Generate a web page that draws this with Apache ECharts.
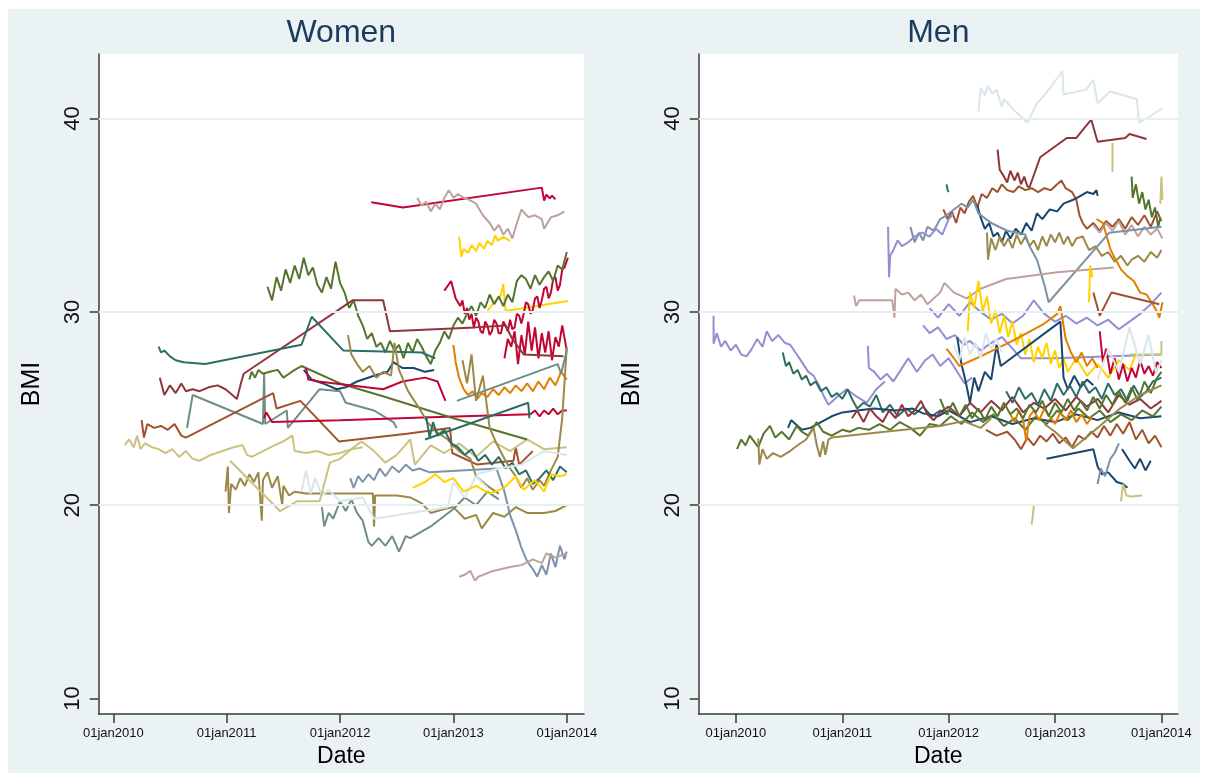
<!DOCTYPE html>
<html>
<head>
<meta charset="utf-8">
<title>BMI over time</title>
<script src="https://cdn.jsdelivr.net/npm/echarts@6/dist/echarts.min.js"></script>
<style>
    html, body { margin: 0; padding: 0; background: #fff; }
    #main { width: 1207px; height: 773px; }
</style>
</head>
<body>
<div id="main"></div>
<script>
// tick labels
var yearTicks = [2010, 2011, 2012, 2013, 2014];
var bmiTicks = [10, 20, 30, 40];
var bmiGrid = [20, 30, 40];

// ---- Women: [date as decimal year, BMI] ----
var w01 = [[2012.275,35.67],[2012.555,35.40],[2013.78,36.43],[2013.80,35.76],[2013.82,36.07],[2013.85,35.87],[2013.87,36.02],[2013.90,35.82]];
var w02 = [[2012.68,35.9],[2012.72,35.5],[2012.76,35.7],[2012.80,35.2],[2012.84,35.6],[2012.88,35.3],[2012.92,35.9],[2012.96,36.3],[2013.00,35.9],[2013.04,36.1],[2013.09,35.9],[2013.14,35.8],[2013.20,35.6],[2013.26,35.0],[2013.32,34.6],[2013.36,34.2],[2013.40,34.5],[2013.44,34.0],[2013.48,34.3],[2013.52,33.8],[2013.56,34.6],[2013.60,35.3],[2013.66,34.9],[2013.72,35.0],[2013.78,34.8],[2013.80,34.3],[2013.86,34.9],[2013.92,35.0],[2013.98,35.2]];
var w03 = [[2013.05,33.9],[2013.07,32.85],[2013.09,33.26],[2013.13,33.05],[2013.16,33.46],[2013.20,33.15],[2013.23,33.57],[2013.27,33.26],[2013.30,33.67],[2013.34,33.46],[2013.37,33.98],[2013.39,33.67],[2013.44,33.88],[2013.50,33.67]];
var w04 = [[2013.30,30.05],[2013.36,30.5],[2013.42,30.9],[2013.44,31.44],[2013.46,30.05],[2014.01,30.56]];
var w05 = [[2012.92,31.1],[2012.98,31.6],[2013.02,30.7],[2013.06,30.3],[2013.08,30.6],[2013.10,29.9],[2013.12,30.2],[2013.14,29.6],[2013.16,29.9],[2013.18,29.2],[2013.20,29.7],[2013.22,29.5],[2013.24,29.0],[2013.26,28.9],[2013.28,29.5],[2013.30,29.3],[2013.32,28.8],[2013.34,29.0],[2013.36,29.6],[2013.38,29.4],[2013.40,28.9],[2013.42,28.9],[2013.44,29.5],[2013.46,29.3],[2013.48,29.0],[2013.50,29.6],[2013.52,29.1],[2013.54,29.2],[2013.56,29.9],[2013.58,29.8],[2013.60,29.4],[2013.62,29.9],[2013.64,30.5],[2013.66,30.4],[2013.68,29.9],[2013.70,30.1],[2013.72,30.7],[2013.74,30.8],[2013.76,30.2],[2013.78,30.6],[2013.80,31.2],[2013.82,31.3],[2013.84,30.7],[2013.86,31.0],[2013.88,31.7],[2013.90,31.8],[2013.92,31.1],[2013.94,31.4],[2013.96,32.2],[2013.98,32.3],[2014.01,32.8]];
var w06 = [[2013.45,27.6],[2013.48,28.6],[2013.51,28.2],[2013.54,29.0],[2013.57,27.3],[2013.60,28.8],[2013.63,27.8],[2013.66,29.5],[2013.69,28.0],[2013.72,29.2],[2013.75,27.6],[2013.78,28.9],[2013.81,27.9],[2013.84,29.0],[2013.87,27.5],[2013.90,28.7],[2013.93,28.2],[2013.96,29.3],[2014.00,28.0]];
var w07 = [[2011.36,31.3],[2011.40,30.6],[2011.44,31.8],[2011.48,31.1],[2011.52,32.2],[2011.56,31.5],[2011.60,32.4],[2011.64,31.7],[2011.68,32.8],[2011.72,31.9],[2011.76,32.3],[2011.80,31.4],[2011.84,31.0],[2011.88,31.8],[2011.92,31.2],[2011.96,32.6],[2012.00,31.5],[2012.04,31.0],[2012.08,30.2],[2012.12,30.6],[2012.16,29.8],[2012.20,29.3],[2012.24,28.6],[2012.28,28.9],[2012.32,28.2],[2012.36,28.4],[2012.40,27.9],[2012.44,28.5],[2012.48,28.0],[2012.52,28.3],[2012.56,27.6],[2012.60,28.4],[2012.64,27.9],[2012.68,28.6],[2012.72,28.2],[2012.76,27.7],[2012.80,27.3],[2012.84,28.0],[2012.88,28.4],[2012.92,29.0],[2012.96,28.6],[2013.00,29.3],[2013.04,29.7],[2013.08,29.4],[2013.12,29.9],[2013.16,30.3],[2013.20,29.8],[2013.24,30.5],[2013.28,30.2],[2013.32,30.9],[2013.36,30.4],[2013.40,30.8],[2013.44,30.3],[2013.48,30.9],[2013.52,30.5],[2013.56,31.6],[2013.60,31.9],[2013.64,31.7],[2013.68,31.2],[2013.72,31.9],[2013.76,31.4],[2013.80,31.8],[2013.84,32.1],[2013.88,31.6],[2013.92,32.4],[2013.96,32.2],[2014.00,33.1]];
var w08 = [[2010.41,26.6],[2010.45,25.7],[2010.50,26.2],[2010.55,25.8],[2010.60,26.3],[2010.64,25.9],[2010.70,26.0],[2010.76,25.9],[2010.84,26.1],[2010.92,26.2],[2010.99,26.0],[2011.05,25.7],[2011.09,25.5],[2011.13,26.4],[2011.15,26.8],[2012.11,30.6],[2012.38,30.6],[2012.44,29.0],[2013.19,29.2],[2013.46,29.3],[2013.52,28.6],[2013.62,27.8],[2013.97,27.7]];
var w09 = [[2010.40,28.2],[2010.42,27.9],[2010.45,28.0],[2010.50,27.7],[2010.55,27.5],[2010.62,27.4],[2010.81,27.3],[2011.66,28.3],[2011.75,29.75],[2012.03,28.0],[2012.72,27.9],[2012.84,27.6]];
var w10 = [[2010.65,24.0],[2010.70,25.7],[2011.32,24.2],[2011.33,26.8],[2011.34,24.2],[2011.53,24.9],[2011.54,24.0],[2011.82,26.0],[2012.00,25.9],[2012.05,25.3],[2012.30,24.9],[2012.47,24.3],[2012.50,24.0]];
var w11 = [[2010.25,24.4],[2010.27,23.5],[2010.30,24.2],[2010.36,24.0],[2010.42,24.1],[2010.48,23.9],[2010.54,24.2],[2010.60,23.6],[2010.64,23.5],[2011.41,25.8],[2011.44,25.0],[2011.65,25.4],[2011.99,23.3],[2012.59,23.7],[2012.97,24.0],[2012.99,22.7],[2013.21,22.1],[2013.53,22.3],[2013.55,23.0],[2013.58,22.1],[2013.70,22.8]];
var w12 = [[2010.10,23.1],[2010.14,23.4],[2010.18,23.0],[2010.21,23.6],[2010.24,22.9],[2010.28,23.2],[2010.34,23.0],[2010.40,22.9],[2010.46,22.7],[2010.52,22.9],[2010.58,22.5],[2010.64,22.8],[2010.70,22.4],[2010.76,22.3],[2010.86,22.6],[2010.96,22.8],[2011.06,23.0],[2011.14,23.1],[2011.18,22.6],[2011.22,22.5],[2011.32,22.8],[2011.42,23.1],[2011.50,23.3],[2011.58,23.6],[2011.60,22.8],[2011.70,22.7],[2011.80,22.8],[2011.90,22.6],[2012.00,22.7],[2012.10,22.9],[2012.19,23.3],[2012.30,22.8],[2012.40,22.2],[2012.50,22.6],[2012.62,23.4],[2012.66,22.1],[2012.80,23.1],[2012.92,22.7],[2013.05,23.2],[2013.20,22.5],[2013.35,23.3],[2013.50,22.8],[2013.65,23.4],[2013.80,22.9],[2014.00,23.0]];
var w13 = [[2010.99,20.7],[2011.01,22.0],[2011.02,19.6],[2011.04,21.1],[2011.08,20.8],[2011.12,21.4],[2011.16,21.0],[2011.20,21.6],[2011.24,21.2],[2011.28,21.7],[2011.31,19.2],[2011.32,21.3],[2011.36,21.7],[2011.40,20.9],[2011.45,21.5],[2011.49,20.0],[2011.50,21.0],[2011.55,20.5],[2011.60,20.7],[2011.70,20.6],[2011.90,20.6],[2012.10,20.6],[2012.29,20.6],[2012.30,18.9],[2012.31,20.5],[2012.50,20.5],[2012.62,20.4],[2012.72,20.1],[2012.80,19.6],[2012.92,19.8],[2013.00,19.9],[2013.10,19.3],[2013.20,19.5],[2013.25,18.8],[2013.35,19.6],[2013.45,19.4],[2013.55,19.9],[2013.65,19.6],[2013.80,19.6],[2013.90,19.7],[2014.00,20.0]];
var w14 = [[2011.33,24.5],[2011.35,24.8],[2011.40,24.3],[2012.00,24.4],[2012.80,24.55],[2013.68,24.7],[2013.72,24.9],[2013.76,24.6],[2013.80,24.9],[2013.84,24.7],[2013.88,25.0],[2013.92,24.7],[2013.96,24.9],[2014.00,24.9]];
var w15 = [[2011.20,26.5],[2011.22,26.9],[2011.25,26.6],[2011.28,27.0],[2011.32,26.8],[2011.38,26.9],[2011.45,27.0],[2011.50,26.6],[2011.55,26.8],[2011.60,27.0],[2011.66,27.2],[2012.00,26.3],[2012.40,25.6],[2013.00,24.5],[2013.65,23.4]];
var w16 = [[2011.68,27.0],[2011.75,26.5],[2011.85,26.3],[2011.97,26.0],[2012.05,26.1],[2012.15,26.4],[2012.30,26.7],[2012.42,26.9],[2012.47,27.4],[2012.55,27.1],[2012.65,27.1],[2012.75,26.9],[2012.83,27.0]];
var w17 = [[2011.70,27.1],[2011.72,26.5],[2011.81,26.4],[2012.38,26.0],[2012.55,26.4],[2012.75,26.6],[2012.86,26.4],[2012.93,25.4]];
var w18 = [[2013.00,28.3],[2013.02,27.4],[2013.05,26.6],[2013.09,26.0],[2013.13,25.7],[2013.17,25.9],[2013.21,25.5],[2013.25,25.8],[2013.30,25.6],[2013.35,26.0],[2013.40,25.7],[2013.45,26.1],[2013.50,25.8],[2013.55,26.2],[2013.60,25.9],[2013.65,26.3],[2013.70,25.9],[2013.75,26.4],[2013.80,26.0],[2013.85,26.6],[2013.90,26.2],[2013.95,26.9],[2014.00,26.5]];
var w19 = [[2012.07,28.8],[2012.10,27.8],[2012.15,27.3],[2012.20,26.9],[2012.26,27.2],[2012.32,26.6],[2012.38,26.9],[2012.45,26.7],[2012.48,28.4],[2012.52,27.0],[2012.60,25.9],[2012.70,25.0],[2012.77,24.3],[2012.85,23.8],[2012.95,23.4],[2013.05,22.8],[2013.15,22.4],[2013.20,21.5],[2013.30,21.0],[2013.40,20.6]];
var w20 = [[2013.08,27.5],[2013.12,26.3],[2013.16,27.8],[2013.20,25.4],[2013.26,26.7],[2013.32,24.0],[2013.38,23.2],[2013.45,22.4],[2013.50,21.9],[2013.55,21.5],[2013.60,20.9],[2013.65,21.4],[2013.70,20.8],[2013.76,21.3],[2013.80,21.0],[2013.86,21.8],[2013.92,22.5],[2013.96,24.5],[2014.00,28.2]];
var w21 = [[2012.76,24.6],[2012.79,23.5],[2012.82,24.3],[2012.86,23.6],[2012.92,23.9],[2012.98,23.2],[2013.04,23.0],[2013.10,22.6],[2013.16,22.9],[2013.22,22.3],[2013.28,22.6],[2013.34,22.1],[2013.40,22.5],[2013.46,21.9],[2013.52,22.2],[2013.58,21.6],[2013.64,21.8],[2013.70,21.1],[2013.76,21.4],[2013.82,21.8],[2013.88,21.3],[2013.94,22.0],[2014.00,21.7]];
var w22 = [[2012.75,23.4],[2013.66,25.3],[2013.67,24.5]];
var w23 = [[2012.09,21.4],[2012.12,20.9],[2012.16,21.5],[2012.20,21.2],[2012.25,21.6],[2012.30,21.3],[2012.35,21.9],[2012.40,21.5],[2012.46,22.0],[2012.52,21.7],[2012.58,22.1],[2012.64,21.8],[2012.70,21.9],[2012.79,21.7],[2013.38,21.9],[2013.45,20.7],[2013.50,19.5],[2013.55,18.7],[2013.60,17.8],[2013.65,17.1],[2013.70,16.7],[2013.74,16.3],[2013.78,16.9],[2013.82,16.4],[2013.86,17.5],[2013.90,16.8],[2013.94,17.9],[2013.98,17.2],[2014.00,17.6]];
var w24 = [[2013.05,16.3],[2013.10,16.4],[2013.15,16.6],[2013.19,16.1],[2013.22,16.3],[2013.35,16.6],[2013.50,16.8],[2013.60,16.9],[2013.70,17.2],[2013.78,17.0],[2013.82,17.5],[2013.90,17.3],[2014.00,17.5]];
var w25 = [[2011.84,19.9],[2011.86,18.9],[2011.90,19.6],[2011.94,19.3],[2012.00,20.2],[2012.05,19.7],[2012.10,20.3],[2012.15,19.6],[2012.20,19.2],[2012.25,18.1],[2012.28,17.9],[2012.34,18.3],[2012.40,17.9],[2012.46,18.4],[2012.52,17.6],[2012.58,18.4],[2012.62,18.3],[2012.80,18.9],[2013.00,19.8],[2013.10,20.4],[2013.20,20.0],[2013.30,20.7],[2013.40,20.3]];
var w26 = [[2013.03,25.4],[2013.92,27.3],[2013.95,26.8],[2014.00,28.0]];
var w27 = [[2011.66,20.7],[2011.70,21.8],[2011.74,20.6],[2011.78,21.4],[2011.84,20.5],[2011.90,20.8],[2012.00,20.2],[2012.20,20.4],[2012.30,19.3],[2012.95,19.9],[2013.00,21.2],[2013.10,20.4],[2013.20,21.5],[2013.30,20.9]];
var w28 = [[2013.20,21.6],[2013.40,21.9],[2013.60,22.1],[2013.80,22.8],[2014.00,22.6]];
var w29 = [[2012.64,20.9],[2012.75,21.2],[2012.84,21.6],[2012.92,21.2],[2013.00,21.4],[2013.09,20.7],[2013.20,21.0],[2013.32,20.6],[2013.45,20.9],[2013.55,21.5],[2013.62,20.8],[2013.72,21.3],[2013.80,20.7],[2013.86,21.6],[2013.94,21.5],[2014.00,21.6]];
var w30 = [[2011.03,22.3],[2011.47,19.7],[2011.62,20.2],[2011.82,20.2],[2011.91,22.2],[2012.00,22.4],[2012.10,22.9],[2012.20,23.0]];

// ---- Men ----
var m01 = [[2012.28,40.35],[2012.30,41.6],[2012.34,41.2],[2012.37,41.7],[2012.41,41.3],[2012.45,41.5],[2012.50,40.6],[2012.52,41.0],[2012.64,40.3],[2012.74,39.8],[2012.83,40.8],[2012.90,41.2],[2013.07,42.45],[2013.08,41.25],[2013.29,41.5],[2013.36,42.0],[2013.40,40.8],[2013.52,41.4],[2013.77,41.0],[2013.79,39.8],[2013.86,40.0],[2014.01,40.55]];
var m02 = [[2012.46,38.4],[2012.48,37.35],[2012.52,37.0],[2012.55,36.7],[2012.58,37.3],[2012.62,36.8],[2012.65,37.2],[2012.68,36.6],[2012.71,37.0],[2012.74,36.5],[2012.76,36.45],[2012.86,38.0],[2013.11,39.0],[2013.20,39.0],[2013.34,39.95],[2013.40,38.8],[2013.66,39.0],[2013.70,39.2],[2013.86,38.95]];
var m03 = [[2013.54,38.75],[2013.54,37.25]];
var m04 = [[2011.95,35.3],[2011.99,34.8],[2012.03,35.2],[2012.07,34.6],[2012.11,35.4],[2012.15,35.1],[2012.19,35.7],[2012.23,36.0],[2012.27,35.4],[2012.31,36.1],[2012.36,35.9],[2012.41,36.4],[2012.46,36.2],[2012.50,36.6],[2012.55,36.3],[2012.61,36.2],[2012.66,36.5],[2012.72,36.3],[2012.78,36.4],[2012.84,36.2],[2012.90,36.4],[2012.96,36.3],[2013.02,36.6],[2013.06,36.8],[2013.10,36.4],[2013.16,36.2],[2013.20,35.8],[2013.23,35.0],[2013.26,34.6],[2013.30,34.3],[2013.36,34.6],[2013.42,34.2],[2013.48,34.7],[2013.54,34.4],[2013.60,34.8],[2013.66,34.3],[2013.72,34.9],[2013.78,34.5],[2013.84,35.0],[2013.90,34.4],[2013.96,35.2],[2014.00,34.7]];
var m05 = [[2012.27,35.5],[2012.30,34.9],[2012.34,34.3],[2012.38,34.6],[2012.42,33.9],[2012.46,34.1],[2012.50,33.6],[2012.54,34.2],[2012.58,33.8],[2012.63,34.3],[2012.68,34.0],[2012.73,34.6],[2012.78,34.2],[2012.83,35.1],[2012.88,34.8],[2012.95,35.3],[2013.02,35.2],[2013.08,35.6],[2013.17,35.8],[2013.24,36.0],[2013.30,36.2],[2013.36,36.1],[2013.39,36.3],[2013.40,36.0]];
var m06 = [[2012.36,34.1],[2012.37,32.7],[2012.40,33.8],[2012.44,33.2],[2012.48,33.9],[2012.52,33.4],[2012.56,33.8],[2012.60,33.3],[2012.64,34.0],[2012.68,33.5],[2012.72,33.9],[2012.76,33.4],[2012.80,33.7],[2012.84,33.2],[2012.88,33.9],[2012.92,33.4],[2012.96,34.0],[2013.00,33.6],[2013.04,34.1],[2013.08,33.5],[2013.12,33.9],[2013.16,33.4],[2013.20,33.8],[2013.26,33.9],[2013.32,33.2],[2013.38,33.4],[2013.44,32.9],[2013.50,33.1],[2013.56,32.6],[2013.62,32.9],[2013.68,32.4],[2013.72,32.7],[2013.78,32.9],[2013.84,32.6],[2013.90,33.1],[2013.96,32.8],[2014.00,33.2]];
var m07 = [[2013.72,37.0],[2013.73,35.9],[2013.76,36.6],[2013.79,35.6],[2013.82,36.2],[2013.85,35.3],[2013.88,35.8],[2013.91,34.9],[2013.94,35.4],[2013.97,34.4],[2013.99,34.9]];
var m08 = [[2013.99,35.6],[2014.00,37.0],[2014.01,35.8]];
var m09 = [[2013.36,34.5],[2013.42,34.1],[2013.48,34.6],[2013.54,34.2],[2013.60,34.7],[2013.66,34.0],[2013.72,34.5],[2013.78,33.9],[2013.84,34.4],[2013.90,34.0],[2013.96,34.3],[2014.01,33.8]];
var m10 = [[2013.39,34.8],[2013.45,34.6],[2013.52,33.25],[2013.56,32.8],[2013.62,32.2],[2013.68,31.85],[2013.74,31.6],[2013.80,31.0],[2013.86,30.9],[2013.92,30.4],[2013.96,30.0],[2013.98,29.7],[2014.01,30.5]];
var m11 = [[2011.64,34.4],[2011.68,33.6],[2011.72,34.1],[2011.76,33.7],[2011.80,34.4],[2011.86,34.2],[2011.92,34.8],[2011.98,35.0],[2012.05,35.3],[2012.12,35.6],[2012.18,35.4],[2012.23,35.8],[2012.28,35.1],[2012.40,34.6],[2012.55,34.2],[2012.72,34.0],[2012.76,33.4],[2012.83,32.7],[2012.90,31.4],[2012.94,30.5],[2013.51,34.1],[2014.00,34.4]];
var m12 = [[2011.43,34.4],[2011.44,31.8],[2011.45,32.9],[2011.48,33.2],[2011.52,33.7],[2011.56,33.4],[2011.62,33.6],[2011.68,33.9],[2011.75,34.1],[2011.82,33.9],[2011.88,34.3],[2011.94,34.0],[2012.00,34.8],[2012.05,35.1]];
var m13 = [[2011.11,30.85],[2011.13,30.3],[2011.16,30.6],[2011.20,30.6],[2011.40,30.6],[2011.47,30.6],[2011.49,29.7],[2011.50,31.2],[2011.56,30.9],[2011.62,31.0],[2011.68,30.6],[2011.74,30.9],[2011.80,30.4],[2011.86,30.7],[2011.92,31.0],[2011.96,31.5],[2012.05,31.0],[2012.17,30.7],[2012.30,31.2],[2012.54,31.7],[2013.02,32.05],[2013.55,32.3]];
var m14 = [[2009.79,29.8],[2009.79,28.35],[2009.82,28.9],[2009.86,28.2],[2009.90,28.5],[2009.95,28.0],[2010.00,28.3],[2010.05,27.8],[2010.10,27.7],[2010.15,28.1],[2010.20,28.6],[2010.25,28.2],[2010.29,29.0],[2010.34,28.5],[2010.40,28.8],[2010.46,28.4],[2010.51,28.3],[2010.56,27.9],[2010.62,27.4],[2010.68,26.9],[2010.73,26.7],[2010.78,26.2],[2010.83,25.6],[2010.87,25.2],[2010.95,25.6],[2011.04,26.0],[2011.14,25.6],[2011.23,25.3],[2011.32,26.0],[2011.40,26.4]];
var m15 = [[2011.24,28.25],[2011.25,27.1],[2011.30,26.9],[2011.36,26.5],[2011.42,26.8],[2011.48,26.4],[2011.55,27.0],[2011.62,27.6],[2011.70,26.9],[2011.78,27.5],[2011.85,27.8],[2011.92,27.2],[2012.00,27.6],[2012.08,26.9],[2012.15,26.3],[2012.22,26.6]];
var m16 = [[2011.82,30.2],[2011.90,29.7],[2012.00,30.4],[2012.10,29.8],[2012.20,30.5],[2012.30,30.0],[2012.40,29.6],[2012.50,29.9],[2012.60,29.4],[2012.70,29.8],[2012.80,30.6],[2012.90,29.9],[2013.00,29.5],[2013.10,29.8],[2013.20,29.4],[2013.30,29.7],[2013.40,29.3],[2013.50,29.6],[2013.60,29.1],[2013.70,29.5],[2013.80,29.9],[2013.90,30.4],[2014.00,31.0]];
var m17 = [[2011.76,29.3],[2011.82,28.9],[2011.90,29.2],[2011.98,28.6],[2012.06,28.8],[2012.14,28.3],[2012.20,28.5],[2012.30,28.0],[2012.40,28.4],[2012.50,28.7],[2012.60,28.1],[2012.68,27.6],[2013.00,27.6],[2014.00,27.8]];
var m18 = [[2012.18,29.0],[2012.20,31.0],[2012.24,30.2],[2012.28,31.6],[2012.32,30.0],[2012.36,30.8],[2012.40,29.4],[2012.44,30.1],[2012.48,28.9],[2012.52,29.8],[2012.56,28.7],[2012.60,29.5],[2012.64,28.3],[2012.68,28.9],[2012.72,27.8],[2012.76,28.6],[2012.80,27.4],[2012.84,28.2],[2012.88,27.6],[2012.92,28.4],[2012.96,27.3],[2013.00,28.0],[2013.04,27.1],[2013.08,27.6],[2013.12,26.9],[2013.20,27.6],[2013.30,26.7],[2013.40,27.3],[2013.50,26.6],[2013.60,27.5],[2013.70,27.0],[2013.76,27.8]];
var m19 = [[2013.32,30.5],[2013.33,32.4],[2013.35,31.8]];
var m20 = [[2012.08,28.7],[2012.12,27.3],[2012.16,26.4],[2012.20,25.3],[2012.24,26.6],[2012.28,25.9],[2012.34,26.9],[2012.40,26.5],[2012.45,28.3],[2012.49,27.2],[2013.05,29.5],[2013.08,26.6],[2013.12,26.0],[2013.18,26.7],[2013.24,26.1],[2013.30,26.5],[2013.36,26.2]];
var m21 = [[2011.98,28.1],[2012.05,27.6],[2012.10,27.2],[2012.30,27.7],[2012.60,28.5],[2012.90,29.4],[2013.02,29.9],[2013.05,30.3],[2013.10,28.6],[2013.15,27.9],[2013.20,27.4],[2013.25,27.9],[2013.30,27.2],[2013.35,27.6],[2013.40,27.1]];
var m22 = [[2010.44,27.9],[2010.47,27.2],[2010.50,27.4],[2010.54,26.8],[2010.58,27.0],[2010.62,26.5],[2010.66,26.7],[2010.70,26.2],[2010.75,26.4],[2010.80,25.9],[2010.85,26.1],[2010.90,25.6],[2010.95,25.8],[2011.00,25.5],[2011.05,26.0],[2011.10,25.4],[2011.14,25.0],[2011.20,25.3],[2011.26,25.1],[2011.32,25.7],[2011.38,24.8],[2011.45,25.2],[2011.52,24.6],[2011.60,25.0],[2011.68,24.7],[2011.76,25.1],[2011.84,24.6],[2011.92,24.9],[2012.00,24.7]];
var m23 = [[2010.49,24.0],[2010.52,24.4],[2010.56,24.2],[2010.62,23.9],[2010.70,24.0],[2010.80,24.3],[2010.90,24.6],[2011.00,24.8],[2011.14,24.9],[2011.30,25.0],[2011.50,24.9],[2011.66,25.0],[2011.76,24.75],[2011.90,24.6],[2012.00,24.9],[2012.20,24.3],[2012.40,24.6],[2012.60,24.2],[2012.80,24.5],[2013.00,24.3],[2013.20,24.7],[2013.40,24.4],[2013.60,24.8],[2013.80,24.5],[2014.00,24.6]];
var m24 = [[2012.92,22.4],[2013.36,22.9],[2013.40,22.0],[2013.44,21.6],[2013.50,21.7],[2013.58,21.2],[2013.64,21.1],[2013.68,20.9]];
var m25 = [[2013.63,22.9],[2013.70,22.3],[2013.75,21.9],[2013.80,22.4],[2013.85,21.8],[2013.90,22.3]];
var m26 = [[2010.01,22.9],[2010.05,23.4],[2010.09,23.1],[2010.13,23.6],[2010.17,23.3],[2010.21,23.0],[2010.26,23.7],[2010.32,24.1],[2010.37,23.5],[2010.43,23.8],[2010.50,23.4],[2010.57,24.1],[2010.62,23.8],[2010.68,23.6],[2010.76,24.3],[2010.82,23.8],[2010.90,23.6],[2011.00,23.9],[2011.07,23.8],[2011.15,24.0],[2011.25,23.9],[2011.35,24.2],[2011.45,23.9],[2011.54,24.3],[2011.64,24.0],[2011.73,23.6],[2011.82,24.2],[2011.92,24.1],[2012.02,24.6],[2012.12,24.2],[2012.22,24.8],[2012.32,24.3],[2012.42,24.7],[2012.52,24.1],[2012.62,24.5],[2012.72,23.9],[2012.82,24.6],[2012.92,24.2],[2013.02,24.9],[2013.12,24.4],[2013.22,25.0],[2013.32,24.5],[2013.42,24.9],[2013.52,24.3],[2013.62,24.7],[2013.72,24.4],[2013.82,24.9],[2013.92,24.6],[2014.00,25.1]];
var m27 = [[2010.21,23.45],[2010.22,22.1],[2010.25,22.9],[2010.29,22.4],[2010.35,22.7],[2010.42,22.5],[2010.51,22.8],[2010.58,23.1],[2010.66,23.4],[2010.73,24.0],[2010.76,23.1],[2010.79,22.5],[2010.82,23.3],[2010.84,22.6],[2010.87,23.4],[2010.90,23.5],[2011.40,23.8],[2011.92,24.1],[2012.14,24.35],[2012.30,24.0],[2012.40,24.5]];
var m28 = [[2011.09,24.5],[2011.14,24.9],[2011.20,24.3],[2011.26,25.0],[2011.32,24.6],[2011.38,24.3],[2011.44,24.9],[2011.50,24.5],[2011.56,25.2],[2011.62,24.6],[2011.68,24.9],[2011.74,25.4],[2011.80,24.7],[2011.86,24.4],[2011.92,24.8],[2012.00,25.1],[2012.10,24.6],[2012.20,25.3],[2012.30,24.8],[2012.40,25.4],[2012.50,24.9],[2012.60,25.6],[2012.70,24.8],[2012.80,25.3],[2012.90,25.0],[2013.00,25.5],[2013.10,24.9],[2013.20,25.6],[2013.30,25.1],[2013.40,25.5],[2013.50,24.8],[2013.60,25.7],[2013.70,25.2],[2013.80,25.5],[2013.90,25.0],[2014.00,25.4]];
var m29 = [[2012.35,23.9],[2012.45,23.6],[2012.55,23.8],[2012.62,23.4],[2012.68,22.9],[2012.74,23.5],[2012.80,23.1],[2012.86,23.6],[2012.92,23.3],[2012.98,23.7],[2013.04,23.2],[2013.10,23.5],[2013.16,23.0],[2013.22,23.6],[2013.28,23.4],[2013.34,23.8],[2013.40,23.5],[2013.46,24.1],[2013.52,23.6],[2013.58,24.2],[2013.64,23.7],[2013.70,24.3],[2013.76,23.4],[2013.82,23.9],[2013.88,23.2],[2013.94,23.6],[2014.00,23.0]];
var m30 = [[2012.58,24.7],[2012.62,24.3],[2012.66,24.9],[2012.70,24.4],[2012.73,23.3],[2012.76,24.6],[2012.80,24.9],[2012.85,24.4],[2012.90,25.0],[2012.95,24.6],[2013.00,24.2],[2013.05,24.8],[2013.10,24.4],[2013.15,24.9],[2013.20,24.3],[2013.25,24.7],[2013.30,24.2],[2013.35,24.6]];
var m31 = [[2012.54,25.9],[2012.60,25.3],[2012.66,26.1],[2012.72,25.5],[2012.78,25.8],[2012.84,25.2],[2012.90,26.0],[2012.96,25.4],[2013.02,26.3],[2013.08,25.7],[2013.14,26.2],[2013.20,25.6],[2013.26,26.4],[2013.32,25.8],[2013.38,26.1],[2013.44,25.5],[2013.50,26.3],[2013.56,25.7],[2013.62,26.0],[2013.68,25.4],[2013.74,26.2],[2013.80,25.6],[2013.86,25.9],[2013.92,26.4],[2014.00,26.6]];
var m32 = [[2013.42,29.0],[2013.45,27.4],[2013.48,28.1],[2013.52,26.8],[2013.56,27.6],[2013.60,26.5],[2013.64,27.3],[2013.68,26.4],[2013.72,27.1],[2013.76,26.6],[2013.80,27.5],[2013.84,26.8],[2013.88,27.2],[2013.92,26.7],[2013.96,27.4],[2014.00,27.1]];
var m33 = [[2011.92,25.5],[2011.98,24.7],[2012.04,25.3],[2012.10,24.6],[2012.16,25.2],[2012.22,24.5],[2012.28,25.0],[2012.34,24.4],[2012.40,25.1],[2012.46,24.6],[2012.52,25.3],[2012.58,24.7],[2012.64,25.0],[2012.70,24.5],[2012.76,25.2],[2012.82,24.8],[2012.88,25.4],[2012.94,24.6],[2013.00,25.3],[2013.06,24.8],[2013.12,25.5],[2013.18,24.9],[2013.24,25.4],[2013.30,24.9],[2013.36,25.6],[2013.42,25.0],[2013.48,25.7],[2013.54,25.2],[2013.60,25.9],[2013.66,25.3],[2013.72,26.1],[2013.78,25.4],[2013.84,26.4],[2013.90,25.8],[2013.96,26.6],[2014.00,26.9]];
var m34 = [[2012.78,19.0],[2012.79,19.4],[2012.80,19.95]];
var m35 = [[2013.62,20.2],[2013.64,21.1],[2013.67,20.5],[2013.72,20.45],[2013.82,20.5]];
var m36 = [[2013.40,21.1],[2013.43,21.9],[2013.47,21.5],[2013.52,22.4],[2013.56,22.7],[2013.60,23.2]];
var m37 = [[2013.70,27.8],[2014.00,27.8],[2014.00,28.5]];
var m38 = [[2012.90,24.2],[2013.00,23.8],[2013.10,23.3],[2013.17,22.95],[2013.40,24.0],[2013.61,25.0],[2013.80,25.7],[2014.00,26.2]];
var m39 = [[2012.05,28.3],[2012.10,27.5],[2012.15,28.7],[2012.20,27.8],[2012.25,28.4],[2012.30,27.6],[2012.35,28.9],[2012.40,28.1],[2012.45,28.6],[2012.50,27.9]];
var m40 = [[2013.40,26.5],[2013.50,28.1],[2013.60,26.9],[2013.70,29.2],[2013.80,27.3],[2013.88,28.8],[2013.95,26.8],[2014.00,27.5]];
var m41 = [[2013.36,31.0],[2013.42,29.8],[2013.53,31.0],[2013.98,30.4]];
var m42 = [[2011.98,36.6],[2011.99,36.3],[2012.00,36.2]];

// Stata s2color palette
var navy = '#1a476f', maroon = '#90353b', forest = '#55752f', dkorange = '#e37e00',
    teal = '#6e8e84', cranberry = '#c10534', lavender = '#938dd2', khaki = '#cac27e',
    sienna = '#a0522d', emidblue = '#7b92a8', emerald = '#2d6d66', brown = '#9c8847',
    erose = '#bfa19c', gold = '#ffd200', bluishgray = '#d9e6eb';

var women = [w01, w02, w03, w04, w05, w06, w07, w08, w09, w10, w11, w12, w13, w14, w15,
             w16, w17, w18, w19, w20, w21, w22, w23, w24, w25, w26, w27, w28, w29, w30];
var womenColors = [cranberry, erose, gold, gold, cranberry, cranberry, forest, maroon, emerald, teal,
                   sienna, khaki, brown, cranberry, forest, navy, cranberry, dkorange, brown, brown,
                   emerald, emerald, emidblue, erose, teal, teal, bluishgray, bluishgray, gold, khaki];
var men = [m01, m02, m03, m04, m05, m06, m07, m08, m09, m10, m11, m12, m13, m14, m15, m16, m17, m18, m19, m20, m21,
           m22, m23, m24, m25, m26, m27, m28, m29, m30, m31, m32, m33, m34, m35, m36, m37, m38, m39, m40, m41, m42];
var menColors = [bluishgray, maroon, khaki, sienna, navy, brown, forest, khaki, erose, dkorange, emidblue,
                 lavender, erose, lavender, lavender, lavender, lavender, gold, gold, navy, dkorange,
                 emerald, navy, navy, navy, forest, brown, maroon, sienna, dkorange, emerald, cranberry,
                 forest, khaki, khaki, emidblue, khaki, brown, bluishgray, bluishgray, sienna, emerald];

var FONT = 'Liberation Sans, Arial, sans-serif';
var axisColor = '#3a3a3a';

function xAxisFor(idx, min, max) {
    return {
        gridIndex: idx, type: 'value', min: min, max: max,
        axisLine: { lineStyle: { color: axisColor, width: 1.5 } },
        axisTick: { customValues: yearTicks, length: 9, lineStyle: { color: axisColor, width: 1.5 } },
        axisLabel: {
            customValues: yearTicks, margin: 13, fontSize: 13, color: '#111', fontFamily: FONT,
            formatter: function(v) { return '01jan' + v; }
        },
        splitLine: { show: false },
        name: 'Date', nameLocation: 'middle', nameGap: 30,
        nameTextStyle: { fontSize: 23, color: '#000', fontFamily: FONT }
    };
}
function yAxisFor(idx) {
    return {
        gridIndex: idx, type: 'value', min: 9.193, max: 43.343,
        axisLine: { show: true, lineStyle: { color: axisColor, width: 1.5 } },
        axisTick: { show: true, customValues: bmiTicks, length: 9, lineStyle: { color: axisColor, width: 1.5 } },
        axisLabel: { customValues: bmiTicks, rotate: 90, margin: 15, fontSize: 22, color: '#111', fontFamily: FONT },
        splitLine: { show: false },
        name: 'BMI', nameLocation: 'middle', nameGap: 54,
        nameTextStyle: { fontSize: 25, color: '#000', fontFamily: FONT }
    };
}

function gridLines(idx) {
    return {
        type: 'line', xAxisIndex: idx, yAxisIndex: idx, data: [], z: 1, silent: true,
        markLine: {
            silent: true, symbol: ['none', 'none'], label: { show: false }, animation: false,
            lineStyle: { color: '#e5eef0', width: 2, type: 'solid' },
            data: bmiGrid.map(function(v) { return { yAxis: v }; })
        }
    };
}

function people(list, colors, idx) {
    return list.map(function(d, i) {
        return {
            type: 'line', xAxisIndex: idx, yAxisIndex: idx, data: d, z: 2,
            showSymbol: false, symbol: 'none', silent: true,
            lineStyle: { color: colors[i], width: 2 }
        };
    });
}

var chart = echarts.init(document.getElementById('main'), null, { renderer: 'canvas' });
chart.setOption({
    animation: false,
    backgroundColor: '#fff',
    textStyle: { fontFamily: FONT },
    graphic: [
        { type: 'rect', z: -100, shape: { x: 8, y: 9, width: 592, height: 764 }, style: { fill: '#eaf2f3' } },
        { type: 'rect', z: -100, shape: { x: 600, y: 9, width: 600, height: 764 }, style: { fill: '#eaf2f3' } },
        { type: 'text', x: 341.3, y: 33, style: { text: 'Women', align: 'center', verticalAlign: 'middle', fontSize: 32, fontFamily: FONT, fill: '#1c3a5e' } },
        { type: 'text', x: 938.3, y: 33, style: { text: 'Men', align: 'center', verticalAlign: 'middle', fontSize: 32, fontFamily: FONT, fill: '#1c3a5e' } }
    ],
    grid: [
        { left: 98.7, top: 54, width: 485.3, height: 664, show: true, backgroundColor: '#fff', borderWidth: 0 },
        { left: 698.7, top: 54, width: 479.2, height: 664, show: true, backgroundColor: '#fff', borderWidth: 0 }
    ],
    xAxis: [xAxisFor(0, 2009.871, 2014.152), xAxisFor(1, 2009.650, 2014.155)],
    yAxis: [yAxisFor(0), yAxisFor(1)],
    series: [gridLines(0), gridLines(1)]
        .concat(people(women, womenColors, 0))
        .concat(people(men, menColors, 1))
});
</script>
</body>
</html>
